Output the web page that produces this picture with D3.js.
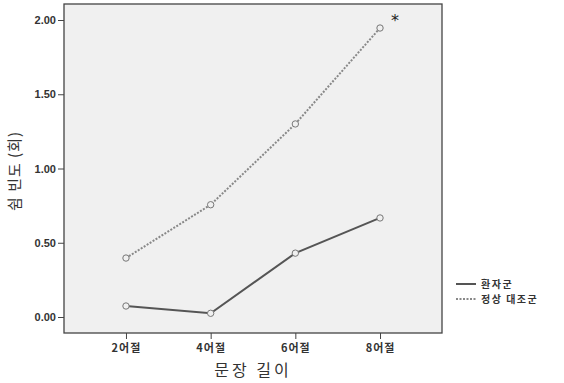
<!DOCTYPE html>
<html>
<head>
<meta charset="utf-8">
<script src="https://cdn.jsdelivr.net/npm/d3@7"></script>
<style>
  body { margin: 0; background: #fff; }
  text { font-family: "Noto Sans CJK KR", "DejaVu Sans", sans-serif; }
</style>
</head>
<body>
<div id="chart"></div>
<script>
const categories	= ['2어절', '4어절', '6어절', '8어절'];
const patient		= [0.074, 0.025, 0.43, 0.667];
const control		= [0.397, 0.756, 1.30, 1.946];
const yTicks		= [0, 0.5, 1, 1.5, 2];
const seriesNames	= ['환자군', '정상 대조군'];

const width		= 564;
const height	= 383;
const plot		= { left: 64, right: 442, top: 4, bottom: 333 };

let svg = d3.select('#chart').append('svg')
	.attr('width', width)
	.attr('height', height);

let x = d3.scalePoint().domain(categories).range([plot.left, plot.right]).padding(0.732);
let y = d3.scaleLinear().domain([0, 2]).range([317, 20]);

svg.append('rect')
	.attr('x', plot.left).attr('y', plot.top)
	.attr('width', plot.right - plot.left).attr('height', plot.bottom - plot.top)
	.attr('fill', '#f0f0f0')
	.attr('stroke', '#444')
	.attr('stroke-width', 1.3);

// y axis
let yAxis = svg.append('g')
	.attr('transform', 'translate(' + plot.left + ',0)')
	.call(d3.axisLeft(y).tickValues(yTicks).tickFormat(d3.format('.2f')).tickSize(6).tickPadding(2));
yAxis.select('.domain').remove();
yAxis.selectAll('line').attr('stroke', '#444');
yAxis.selectAll('text')
	.attr('font-size', 11).attr('font-weight', 'bold').attr('fill', '#333')
	.style('font-family', '"Liberation Sans", Arial, sans-serif');

// x axis
let xAxis = svg.append('g')
	.attr('transform', 'translate(0,' + plot.bottom + ')')
	.call(d3.axisBottom(x).tickSize(6).tickPadding(5));
xAxis.select('.domain').remove();
xAxis.selectAll('line').attr('stroke', '#444');
xAxis.selectAll('text')
	.attr('font-size', 11).attr('font-weight', 'bold').attr('fill', '#333')
	.attr('letter-spacing', 1);

// axis titles
svg.append('text')
	.attr('x', (plot.left + plot.right) / 2).attr('y', 376)
	.attr('text-anchor', 'middle')
	.attr('font-size', 16).attr('fill', '#333')
	.attr('letter-spacing', 3)
	.text('문장 길이');

svg.append('text')
	.attr('transform', 'translate(20,171) rotate(-90)')
	.attr('text-anchor', 'middle')
	.attr('font-size', 15).attr('fill', '#333')
	.attr('letter-spacing', 1)
	.text('쉼 빈도 (회)');

// lines
let line = d3.line()
	.x((d, i) => x(categories[i]))
	.y((d) => y(d));

svg.append('path')
	.datum(control)
	.attr('d', line)
	.attr('fill', 'none')
	.attr('stroke', '#888')
	.attr('stroke-width', 2)
	.attr('stroke-dasharray', '2,1.5');

svg.append('path')
	.datum(patient)
	.attr('d', line)
	.attr('fill', 'none')
	.attr('stroke', '#555')
	.attr('stroke-width', 2);

[control, patient].forEach((s) => {
	svg.append('g').selectAll('circle')
		.data(s)
		.enter().append('circle')
		.attr('cx', (d, i) => x(categories[i]))
		.attr('cy', (d) => y(d))
		.attr('r', 3.2)
		.attr('fill', '#f0f0f0')
		.attr('stroke', '#777')
		.attr('stroke-width', 1);
});

// significance mark
svg.append('text')
	.attr('x', x(categories[3]) + 15).attr('y', y(control[3]) - 2)
	.attr('text-anchor', 'middle')
	.attr('font-size', 16).attr('fill', '#222')
	.style('font-family', '"DejaVu Sans", sans-serif')
	.text('*');

// legend
let legend = svg.append('g').attr('transform', 'translate(456,284)');
seriesNames.forEach((name, i) => {
	legend.append('line')
		.attr('x1', 0).attr('x2', 20)
		.attr('y1', i * 15).attr('y2', i * 15)
		.attr('stroke', i == 0 ? '#555' : '#888')
		.attr('stroke-width', 2)
		.attr('stroke-dasharray', i == 0 ? null : '2,1.5');
	legend.append('text')
		.attr('x', 25).attr('y', i * 15 + 4)
		.attr('font-size', 10).attr('font-weight', 'bold').attr('fill', '#333')
		.attr('letter-spacing', 1.5)
		.text(name);
});
</script>
</body>
</html>
